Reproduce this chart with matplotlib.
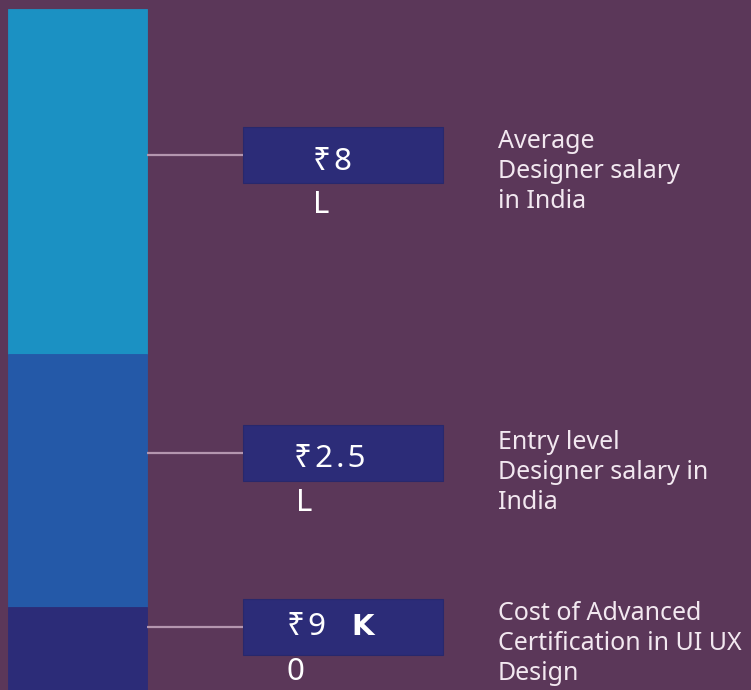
import matplotlib
matplotlib.use("Agg")
import matplotlib.pyplot as plt
from matplotlib.patches import Rectangle

# ---- data ----
segment_names = ["Average Designer salary", "Entry level Designer salary", "Advanced Certification cost"]
segment_sizes = [345, 253, 90]          # visual segment heights (stack, top to bottom)
value_main = ["₹\u200a8", "₹\u200a2\u200a.\u200a5", "₹\u200a9"]
value_bold = ["", "", "K"]
value_wrap = ["L", "L", "0"]
label_lines = [
    ["Average", "Designer salary", "in India"],
    ["Entry level", "Designer salary in", "India"],
    ["Cost of Advanced", "Certification in UI UX", "Design"],
]

# ---- style ----
BG = "#5B3759"
SEG_COLORS = ["#1B91C3", "#2459A8", "#2C2C78"]
BOX_COLOR = "#2C2C78"
LINE_COLOR = "#B496AF"
FAMILY = ["Noto Sans", "DejaVu Sans"]

W, H = 751, 690
fig = plt.figure(figsize=(W / 100, H / 100), dpi=100, facecolor=BG)
ax = fig.add_axes([0, 0, 1, 1])
ax.set_facecolor(BG)
ax.set_xlim(0, W)
ax.set_ylim(H, 0)
ax.axis("off")

bar_left, bar_w, bar_top = 8, 139, 9
conn_y = [155, 453, 627]
box_x0, box_w, box_h = 243, 200, 56
main_x = [313, 294, 287]
bold_x = [None, None, 351]
wrap_x = [313, 296, 287]
main_base = [170, 467, 635]
wrap_base = [213, 511, 680]
label_x = 498
label_base = [148, 449, 620]

# stacked bar
bottom = bar_top
for size, col in zip(segment_sizes, SEG_COLORS):
    ax.bar(bar_left, size, width=bar_w, bottom=bottom, align="edge",
           color=col, edgecolor=col, linewidth=0.6)
    bottom += size

for i in range(len(segment_names)):
    cy = conn_y[i]
    ax.plot([bar_left + bar_w, box_x0], [cy, cy], color=LINE_COLOR, lw=1.6,
            solid_capstyle="butt")
    ax.add_patch(Rectangle((box_x0, cy - box_h / 2), box_w, box_h,
                           facecolor=BOX_COLOR, edgecolor="#28286C", lw=0.8))
    ax.text(main_x[i], main_base[i], value_main[i], color="white", fontsize=22.5,
            family=FAMILY, ha="left", va="baseline")
    if value_bold[i]:
        ax.text(bold_x[i], main_base[i], value_bold[i], color="white", fontsize=21,
                family=["DejaVu Sans"], fontweight="bold",
                ha="left", va="baseline")
    ax.text(wrap_x[i], wrap_base[i], value_wrap[i], color="white", fontsize=22.5,
            family=FAMILY, ha="left", va="baseline")
    for j, line in enumerate(label_lines[i]):
        ax.text(label_x, label_base[i] + 30 * j, line, color="#F2E8F0",
                fontsize=18, family=FAMILY, ha="left", va="baseline")

fig.savefig("out.png", dpi=100, facecolor=BG)
